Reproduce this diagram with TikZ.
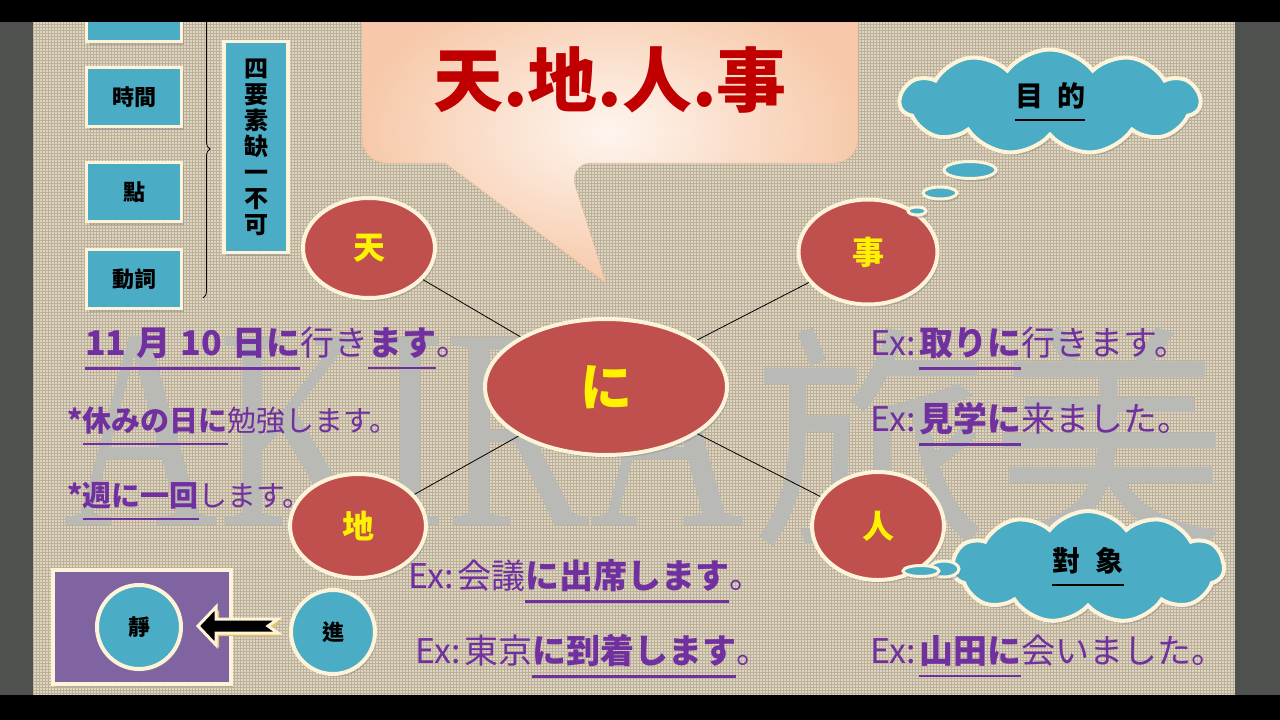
\documentclass[tikz,border=0pt]{standalone}
\usepackage{fontspec}
\usepackage{tikz}
\usetikzlibrary{
    shapes,
    shapes.geometric,
    shapes.symbols,
    shadows,
    patterns,
    decorations.pathreplacing,
    calc,
    positioning
}
\newfontfamily\jpfont{Noto Sans CJK JP}
\newfontfamily\tcfont{Noto Sans CJK TC}
\newfontfamily\scfont{Noto Sans CJK SC}
\newfontfamily\markfont{Liberation Serif}
\newcommand{\fsz}[1]{\fontsize{#1}{#1}\selectfont}
\newcommand{\ulin}[1]{\vtop{\hbox{#1}\kern9pt\hrule height 2.5pt}}
\definecolor{beige}{HTML}{DED5C3}
\definecolor{weave}{HTML}{BCB099}
\definecolor{cream}{HTML}{FCF3D9}
\definecolor{boxteal}{HTML}{4BACC6}
\definecolor{ballred}{HTML}{C0504D}
\definecolor{inkpurple}{HTML}{7030A0}
\definecolor{panelpurple}{HTML}{8064A2}
\definecolor{titlered}{HTML}{C00000}
\definecolor{markgray}{HTML}{B9B9B5}
\definecolor{sidegray}{HTML}{4F514F}
\definecolor{peachin}{HTML}{FEF5EE}
\definecolor{peachout}{HTML}{F7C9AA}
\definecolor{arrowgold}{HTML}{E8C36A}

\begin{document}
\begin{tikzpicture}[x=1pt, y=-1pt,
    softshadow/.style={drop shadow={shadow xshift=2pt, shadow yshift=-3pt, opacity=0.4}},
    redball/.style={ellipse, fill=ballred, draw=cream, line width=4pt, text=yellow, font=\tcfont\bfseries\fsz{32}, softshadow},
    tealbox/.style={rectangle, fill=boxteal, draw=cream, line width=3.5pt, minimum width=95pt, minimum height=59pt, font=\tcfont\bfseries\fsz{22}, softshadow},
    tealball/.style={circle, fill=boxteal, draw=cream, line width=4pt, minimum size=84pt, font=\tcfont\bfseries\fsz{22}, softshadow},
    thinkcloud/.style={cloud, cloud puffs=11, cloud puff arc=105, aspect=2.8, fill=boxteal, draw=cream, line width=4pt, font=\tcfont\bfseries\fsz{28}, softshadow},
    puff/.style={ellipse, fill=boxteal, draw=cream, line width=3pt, inner sep=0pt, softshadow},
    inkline/.style={anchor=base west, inner sep=0pt, text=inkpurple, font=\jpfont\fsz{34}}
]
\useasboundingbox (0,0) rectangle (1280,720);
\fill[beige] (0,0) rectangle (1280,720);
\fill[pattern=grid, pattern color=weave] (33,22) rectangle (1235,695);
\fill[sidegray] (0,0) rectangle (33,720);
\fill[sidegray] (1235,0) rectangle (1280,720);

\node[anchor=base west, inner sep=0pt, text=markgray, font=\markfont\fsz{287}] (markabc) at (63,525) {\scalebox{0.75}[1]{AKIRA}};
\node[anchor=base west, inner sep=0pt, text=markgray, font=\scfont\fsz{238}] (markcjk) at (752,528) {旅美};

\shade[inner color=peachin, outer color=peachout, draw=peachout!80!brown]
    [rounded corners=24] (445,163) -- (362,163) -- (362,-20) -- (858,-20) -- (858,163) -- (568,163)
    [sharp corners] -- (606,283) -- cycle;
\node[text=titlered, font=\tcfont\bfseries\fsz{70}] (title) at (610,80) {天.地.人.事};

\node[tealbox] (boxtop) at (134,12) {};
\node[tealbox] (time) at (134,97) {時間};
\node[tealbox] (place) at (134,192) {點};
\node[tealbox] (verb) at (134,279) {動詞};
\draw[decorate, decoration={brace, amplitude=7pt}, line width=0.8pt] (203,0) -- (203,298);
\node[tealbox, minimum width=64pt, minimum height=211pt, align=center, font=\tcfont\bfseries\fontsize{24}{26}\selectfont] (rule4) at (256,147) {四\\要\\素\\缺\\一\\不\\可};

\node[redball, minimum width=242pt, minimum height=136pt, font=\jpfont\bfseries\fsz{52}] (ni) at (606,387) {に};
\node[redball, minimum width=132pt, minimum height=100pt] (ten) at (369,248) {天};
\node[redball, minimum width=139pt, minimum height=105pt] (koto) at (868,252) {事};
\node[redball, minimum width=136pt, minimum height=104pt] (chi) at (358,526) {地};
\node[redball, minimum width=132pt, minimum height=108pt] (hito) at (878,526) {人};
\draw[line width=0.8pt]
    (ni) edge (ten)
    (ni) edge (koto)
    (ni) edge (chi)
    (ni) edge (hito);

\node[thinkcloud, minimum width=300pt, minimum height=105pt] (purpose) at (1050,102) {\ulin{目\hspace{14pt}的}};
\node[puff, minimum width=52pt, minimum height=17pt] (pa) at (970,170) {};
\node[puff, minimum width=34pt, minimum height=12pt] (pb) at (940,193) {};
\node[puff, minimum width=18pt, minimum height=8pt] (pc) at (917,211) {};

\node[thinkcloud, minimum width=272pt, minimum height=112pt] (target) at (1088,567) {\ulin{對\hspace{16pt}象}};
\node[puff, minimum width=30pt, minimum height=16pt] (qa) at (944,569) {};
\node[puff, minimum width=36pt, minimum height=11pt] (qb) at (921,571) {};

\node[inkline] (lineday) at (85,355) {\ulin{\bfseries 11\hspace{10pt}月\hspace{10pt}10\hspace{10pt}日に}行き\ulin{\bfseries ます}。};
\node[inkline, font=\jpfont\fsz{29}] (lineoff) at (67,431) {{\bfseries *}\ulin{\bfseries 休みの日に}勉強します。};
\node[inkline, font=\jpfont\fsz{29}] (lineweek) at (67,506) {{\bfseries *}\ulin{\bfseries 週に一回}します。};
\node[inkline] (exmeet) at (408,588) {Ex:\hspace{4pt}会議\ulin{\bfseries に出席します}。};
\node[inkline] (exarrive) at (415,663) {Ex:\hspace{4pt}東京\ulin{\bfseries に到着します}。};
\node[inkline] (extake) at (870,355) {Ex:\hspace{4pt}\ulin{\bfseries 取りに}行きます。};
\node[inkline] (exvisit) at (870,431) {Ex:\hspace{4pt}\ulin{\bfseries 見学に}来ました。};
\node[inkline] (exmeetp) at (870,663) {Ex:\hspace{4pt}\ulin{\bfseries 山田に}会いました。};

\node[rectangle, fill=panelpurple, draw=cream, line width=4pt, minimum width=178pt, minimum height=114pt, softshadow] (still) at (142,627) {};
\node[tealball] (sei) at (139,627) {靜};
\node[tealball] (jin) at (333,632) {進};
\fill[arrowgold] (201,629) -- (219,610) -- (219,622) -- (281,622) -- (271,629) -- (281,636) -- (219,636) -- (219,648) -- cycle;
\filldraw[fill=black, draw=cream, line width=3pt, line join=miter] (198,626) -- (216,607) -- (216,619) -- (278,619) -- (268,626) -- (278,633) -- (216,633) -- (216,645) -- cycle;

\fill[black] (0,0) rectangle (1280,22);
\fill[black] (0,695) rectangle (1280,720);
\end{tikzpicture}
\end{document}
